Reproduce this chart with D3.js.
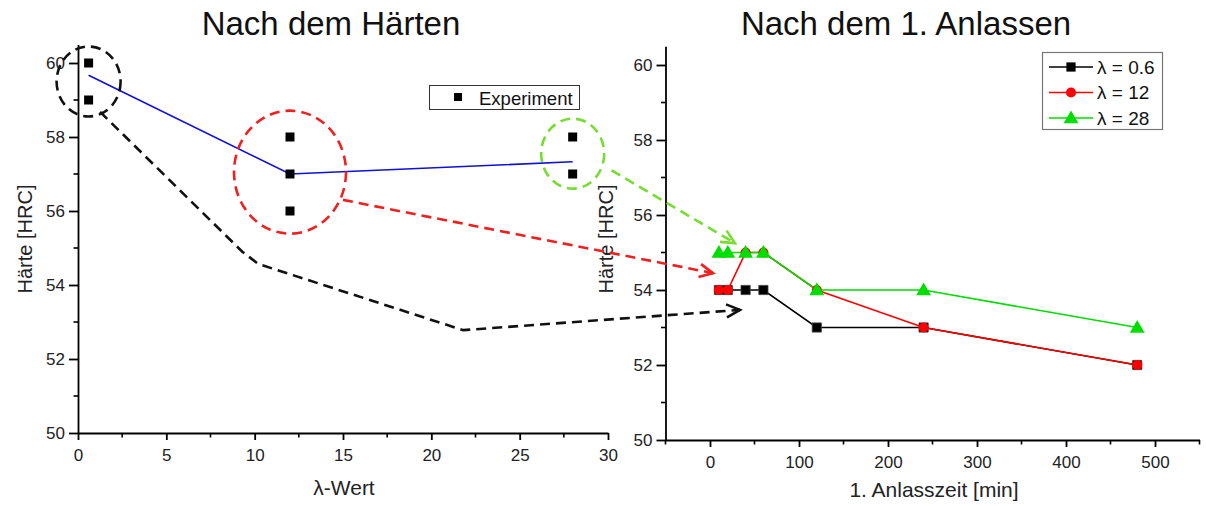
<!DOCTYPE html>
<html><head><meta charset="utf-8">
<script src="https://cdn.jsdelivr.net/npm/d3@7"></script>
<style>
html,body{margin:0;padding:0;background:#fff;}
svg{display:block;font-family:"Liberation Sans",Arial,sans-serif;}
</style></head>
<body>
<svg id="chart" width="1206" height="506"></svg>
<script>
// ---- Left panel: hardness after hardening ----
const lambdaExp = [0.6, 0.6, 12, 12, 12, 28, 28];
const hardExp   = [60, 59, 58, 57, 56, 58, 57];
const lambdaMean = [0.6, 12, 28];
const hardMean   = [59.67, 57, 57.33];
const leftXTicks = [0, 5, 10, 15, 20, 25, 30];
const hardTicks  = [50, 52, 54, 56, 58, 60];

// ---- Right panel: hardness after 1st tempering ----
const temperTime = [10, 20, 40, 60, 120, 240, 480];
const hard06 = [54, 54, 54, 54, 53, 53, 52];
const hard12 = [54, 54, 55, 55, 54, 53, 52];
const hard28 = [55, 55, 55, 55, 54, 54, 53];
const seriesNames = ["λ = 0.6", "λ = 12", "λ = 28"];
const rightXTicks = [0, 100, 200, 300, 400, 500];

const svg = d3.select("#chart");
const FONT_TICK = 17;

const xL = d3.scaleLinear().domain([0, 30]).range([78, 608]);
const yL = d3.scaleLinear().domain([50, 60.5]).range([433, 44.5]);
const xR = d3.scaleLinear().domain([-50, 550]).range([665.5, 1199.5]);
const yR = d3.scaleLinear().domain([50, 60.5]).range([440, 46.25]);

function drawAxes(x, y, xTicks, xMinor, yTicks, yMinor) {
  const y0 = y.range()[0], x0 = x.range()[0];
  const gx = svg.append("g").attr("transform", `translate(0,${y0})`)
    .call(d3.axisBottom(x).tickValues(xTicks).tickSize(7).tickSizeOuter(0).tickPadding(9));
  gx.selectAll(".tick text").attr("font-size", FONT_TICK).attr("font-family", "Liberation Sans, Arial, sans-serif").attr("fill", "#222");
  gx.selectAll("line, path").attr("stroke", "#000").attr("stroke-width", 1.8);
  gx.selectAll(".minor").data(xMinor).join("line").attr("class", "minor")
    .attr("x1", d => x(d)).attr("x2", d => x(d)).attr("y1", 0).attr("y2", 4.5)
    .attr("stroke", "#000").attr("stroke-width", 1.6);

  const gy = svg.append("g").attr("transform", `translate(${x0},0)`)
    .call(d3.axisLeft(y).tickValues(yTicks).tickSize(9).tickSizeOuter(0).tickPadding(4));
  gy.selectAll(".tick text").attr("font-size", FONT_TICK).attr("font-family", "Liberation Sans, Arial, sans-serif").attr("fill", "#222");
  gy.selectAll("line, path").attr("stroke", "#000").attr("stroke-width", 1.8);
  gy.selectAll(".minor").data(yMinor).join("line").attr("class", "minor")
    .attr("x1", 0).attr("x2", -4.5).attr("y1", d => y(d)).attr("y2", d => y(d))
    .attr("stroke", "#000").attr("stroke-width", 1.6);
}

drawAxes(xL, yL, leftXTicks, [2.5, 7.5, 12.5, 17.5, 22.5, 27.5], hardTicks, [51, 53, 55, 57, 59]);
drawAxes(xR, yR, rightXTicks, [-50, 50, 150, 250, 350, 450, 550], hardTicks, [51, 53, 55, 57, 59]);

// titles & axis labels
svg.append("text").attr("x", 331).attr("y", 35).attr("text-anchor", "middle")
  .attr("font-size", 33).attr("fill", "#111").text("Nach dem Härten");
svg.append("text").attr("x", 906).attr("y", 35).attr("text-anchor", "middle")
  .attr("font-size", 33).attr("fill", "#111").text("Nach dem 1. Anlassen");
svg.append("text").attr("x", 344).attr("y", 495).attr("text-anchor", "middle")
  .attr("font-size", 21).attr("fill", "#222").text("λ-Wert");
svg.append("text").attr("x", 934).attr("y", 497).attr("text-anchor", "middle")
  .attr("font-size", 21).attr("fill", "#222").text("1. Anlasszeit [min]");
svg.append("text").attr("transform", "translate(32,239) rotate(-90)").attr("text-anchor", "middle")
  .attr("font-size", 20).attr("fill", "#222").text("Härte [HRC]");
svg.append("text").attr("transform", "translate(613,239) rotate(-90)").attr("text-anchor", "middle")
  .attr("font-size", 20).attr("fill", "#222").text("Härte [HRC]");

// ---- Left panel marks ----
const lineL = d3.line().x(d => xL(d[0])).y(d => yL(d[1]));
svg.append("path").datum(d3.zip(lambdaMean, hardMean)).attr("d", lineL)
  .attr("fill", "none").attr("stroke", "#1010d8").attr("stroke-width", 1.6);

// ---- Annotation: dashed circles and arrows linking the panels ----
const ann = svg.append("g").attr("fill", "none").attr("stroke-width", 2.6);
const circles = [
  { cx: 0.6, cy: 59.5, rx: 32, ry: 35, color: "#111" },
  { cx: 12, cy: 57.05, rx: 56, ry: 61.5, color: "#ee2020" },
  { cx: 28, cy: 57.55, rx: 31.5, ry: 35, color: "#77dd33" }
];
ann.selectAll("ellipse").data(circles).join("ellipse")
  .attr("cx", d => xL(d.cx)).attr("cy", d => yL(d.cy))
  .attr("rx", d => d.rx).attr("ry", d => d.ry)
  .attr("stroke", d => d.color).attr("stroke-dasharray", "10,6");

const arrows = [
  { color: "#111", from: [[1.25, 58.68], [9.3, 54.9], [10.2, 54.57], [21.8, 52.78]], to: [33.7, 53.47] },
  { color: "#ee2020", from: [[15.0, 56.3]], to: [3.4, 54.45] },
  { color: "#77dd33", from: [[30.2, 57.1]], to: [28, 55.25] }
];
arrows.forEach(a => {
  const pts = a.from.map(p => [xL(p[0]), yL(p[1])]);
  const tip = [xR(a.to[0]), yR(a.to[1])];
  pts.push(tip);
  ann.append("path").attr("d", d3.line()(pts)).attr("stroke", a.color)
    .attr("stroke-dasharray", "10,6");
  const prev = pts[pts.length - 2];
  const ang = Math.atan2(tip[1] - prev[1], tip[0] - prev[0]);
  const L = 15, spread = 0.45;
  const p1 = [tip[0] - L * Math.cos(ang - spread), tip[1] - L * Math.sin(ang - spread)];
  const p2 = [tip[0] - L * Math.cos(ang + spread), tip[1] - L * Math.sin(ang + spread)];
  ann.append("path").attr("d", d3.line()([p1, tip, p2])).attr("stroke", a.color)
    .attr("stroke-linejoin", "miter");
});

// experimental points
svg.append("g").selectAll("rect").data(d3.zip(lambdaExp, hardExp)).join("rect")
  .attr("x", d => xL(d[0]) - 4.5).attr("y", d => yL(d[1]) - 4.5)
  .attr("width", 9).attr("height", 9).attr("fill", "#000");

// legend left
const lg = svg.append("g");
lg.append("rect").attr("x", 429.5).attr("y", 85.5).attr("width", 150).attr("height", 24)
  .attr("fill", "#fff").attr("stroke", "#333").attr("stroke-width", 1);
lg.append("rect").attr("x", 454).attr("y", 93).attr("width", 8).attr("height", 8).attr("fill", "#000");
lg.append("text").attr("x", 479).attr("y", 104.5).attr("font-size", 18.5).attr("fill", "#111").text("Experiment");

// ---- Right panel marks ----
const colors = ["#000000", "#ff0000", "#00dd00"];
const seriesVals = [hard06, hard12, hard28];
const lineR = d3.line().x(d => xR(d[0])).y(d => yR(d[1]));
const sym = [d3.symbolSquare, d3.symbolCircle, d3.symbolTriangle];
const symSize = [85, 80, 95];

seriesVals.forEach((vals, i) => {
  const pts = d3.zip(temperTime, vals);
  svg.append("path").datum(pts).attr("d", lineR)
    .attr("fill", "none").attr("stroke", colors[i]).attr("stroke-width", 1.6);
});
seriesVals.forEach((vals, i) => {
  const pts = d3.zip(temperTime, vals);
  svg.append("g").selectAll("path").data(pts).join("path")
    .attr("transform", d => `translate(${xR(d[0])},${yR(d[1]) + (i === 2 ? 1 : 0)})`)
    .attr("d", d3.symbol().type(sym[i]).size(symSize[i]))
    .attr("fill", colors[i]).attr("stroke", i === 0 ? "#444" : "none").attr("stroke-width", 0.8);
});

// legend right
const lr = svg.append("g");
lr.append("rect").attr("x", 1042.5).attr("y", 52.5).attr("width", 120).attr("height", 77)
  .attr("fill", "#fff").attr("stroke", "#777").attr("stroke-width", 1.2);
seriesNames.forEach((name, i) => {
  const yy = 67 + i * 25.5;
  lr.append("line").attr("x1", 1049).attr("x2", 1093).attr("y1", yy).attr("y2", yy)
    .attr("stroke", colors[i]).attr("stroke-width", 1.6);
  lr.append("path").attr("transform", `translate(1071,${yy + (i === 2 ? 1 : 0)})`)
    .attr("d", d3.symbol().type(sym[i]).size(symSize[i])).attr("fill", colors[i]);
  lr.append("text").attr("x", 1097).attr("y", yy + 6.5).attr("font-size", 19).attr("fill", "#111").text(name);
});
</script>
</body></html>
